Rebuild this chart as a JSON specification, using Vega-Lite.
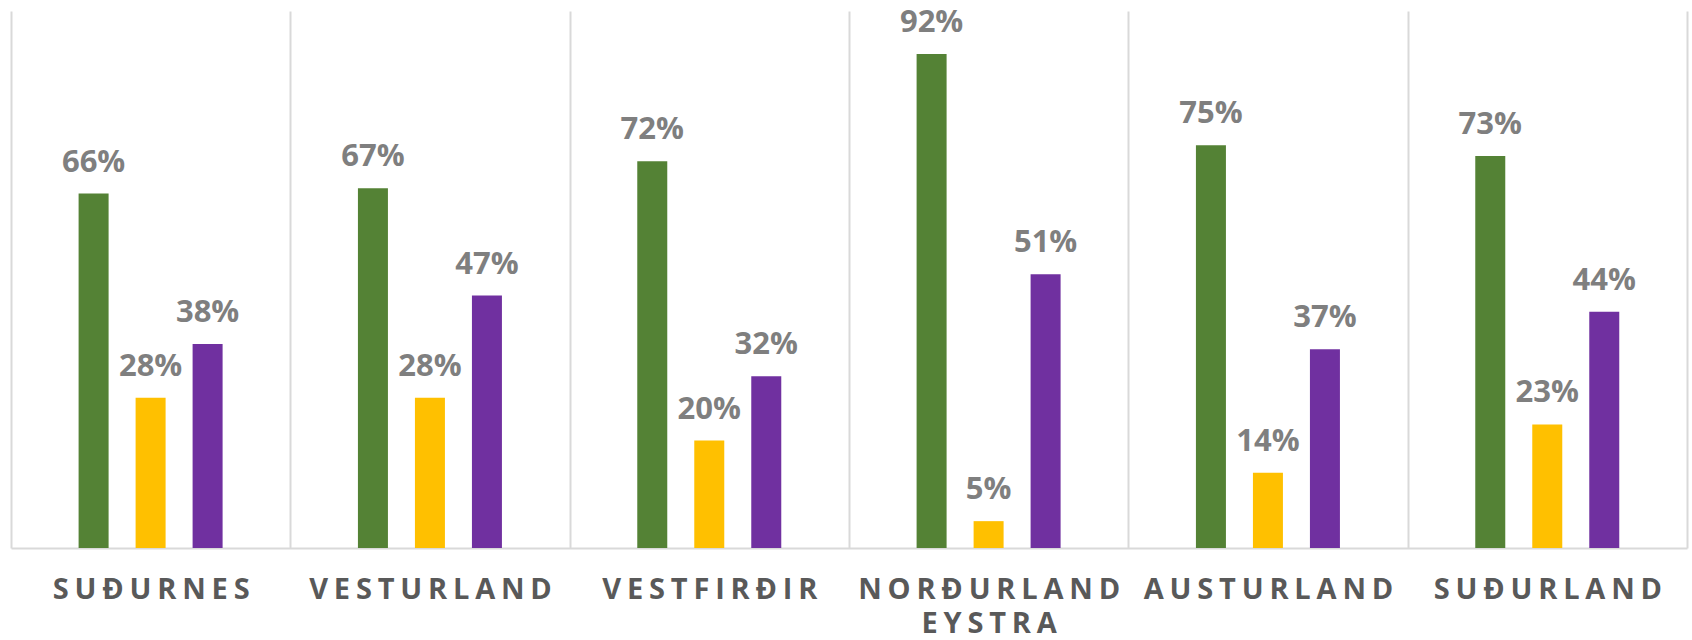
{
  "$schema": "https://vega.github.io/schema/vega-lite/v6.json",
  "width": 1676,
  "height": 537,
  "autosize": {"type": "none"},
  "padding": {"left": 11, "top": 11, "right": 5, "bottom": 92},
  "background": "white",
  "config": {"view": {"stroke": null}},
  "data": {
    "values": [
      {"region": "Suðurnes", "series": "Flokkur 1", "value": 0.66},
      {"region": "Suðurnes", "series": "Flokkur 2", "value": 0.28},
      {"region": "Suðurnes", "series": "Flokkur 3", "value": 0.38},
      {"region": "Vesturland", "series": "Flokkur 1", "value": 0.67},
      {"region": "Vesturland", "series": "Flokkur 2", "value": 0.28},
      {"region": "Vesturland", "series": "Flokkur 3", "value": 0.47},
      {"region": "Vestfirðir", "series": "Flokkur 1", "value": 0.72},
      {"region": "Vestfirðir", "series": "Flokkur 2", "value": 0.20},
      {"region": "Vestfirðir", "series": "Flokkur 3", "value": 0.32},
      {"region": "Norðurland eystra", "series": "Flokkur 1", "value": 0.92},
      {"region": "Norðurland eystra", "series": "Flokkur 2", "value": 0.05},
      {"region": "Norðurland eystra", "series": "Flokkur 3", "value": 0.51},
      {"region": "Austurland", "series": "Flokkur 1", "value": 0.75},
      {"region": "Austurland", "series": "Flokkur 2", "value": 0.14},
      {"region": "Austurland", "series": "Flokkur 3", "value": 0.37},
      {"region": "Suðurland", "series": "Flokkur 1", "value": 0.73},
      {"region": "Suðurland", "series": "Flokkur 2", "value": 0.23},
      {"region": "Suðurland", "series": "Flokkur 3", "value": 0.44}
    ]
  },
  "encoding": {
    "x": {
      "field": "region",
      "type": "nominal",
      "sort": null,
      "scale": {"paddingInner": 0, "paddingOuter": 0},
      "axis": {
        "title": null,
        "tickBand": "extent",
        "grid": true,
        "gridColor": "#D9D9D9",
        "gridWidth": 2,
        "ticks": false,
        "domainColor": "#D9D9D9",
        "domainWidth": 2,
        "labelAngle": 0,
        "labelFont": "Open Sans",
        "labelFontWeight": "bold",
        "labelFontSize": 29,
        "labelColor": "#595959",
        "labelPadding": 27,
        "labelBaseline": "top",
        "labelLineHeight": 34,
        "labelOverlap": false,
        "labelBound": false,
        "labelLimit": 0,
        "labelExpr": "split(join(split(upper(datum.label), ''), '\u200a\u200a'), '\u200a\u200a \u200a\u200a')"
      }
    },
    "xOffset": {
      "field": "series",
      "type": "nominal",
      "sort": null,
      "scale": {"range": [67.6, 211.6], "paddingInner": 0.4737, "paddingOuter": 0}
    },
    "y": {
      "field": "value",
      "type": "quantitative",
      "scale": {"domain": [0, 1]},
      "axis": null
    }
  },
  "layer": [
    {
      "mark": {"type": "bar"},
      "encoding": {
        "color": {
          "field": "series",
          "type": "nominal",
          "sort": null,
          "scale": {
            "domain": ["Flokkur 1", "Flokkur 2", "Flokkur 3"],
            "range": ["#548235", "#FFC000", "#7030A0"]
          },
          "legend": null
        }
      }
    },
    {
      "mark": {
        "type": "text",
        "baseline": "alphabetic",
        "dy": -22,
        "font": "Open Sans",
        "fontWeight": "bold",
        "fontSize": 31,
        "color": "#7F7F7F"
      },
      "encoding": {
        "text": {"field": "value", "type": "quantitative", "format": ".0%"}
      }
    }
  ]
}
